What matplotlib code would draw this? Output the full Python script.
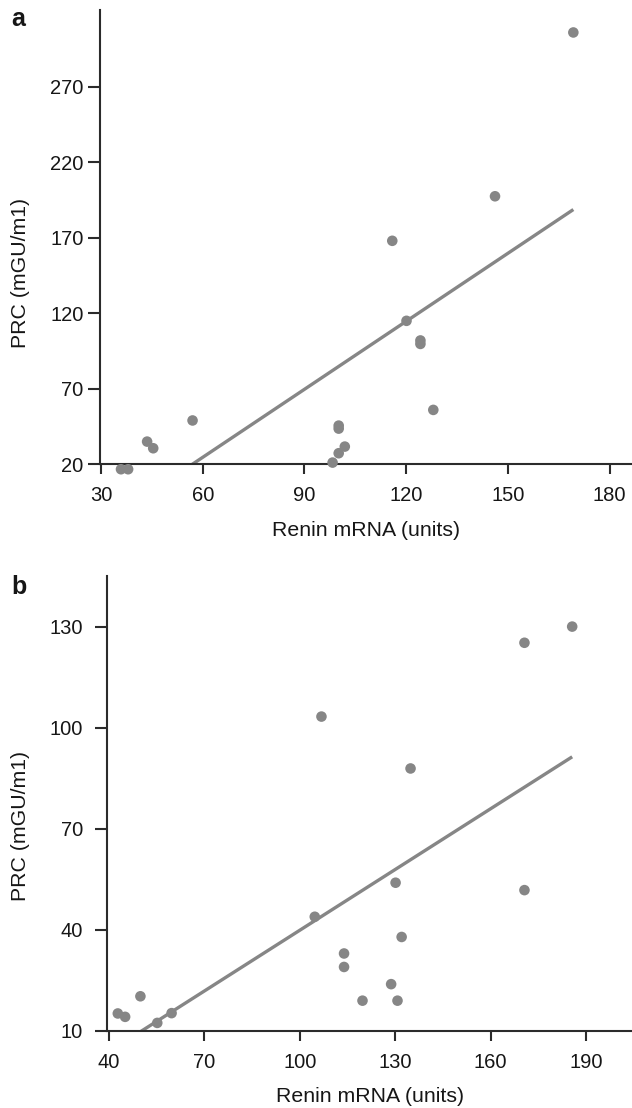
"""Two-panel scatter: PRC vs renin mRNA with least-squares fit lines."""

import matplotlib
matplotlib.use("Agg")
import matplotlib.pyplot as plt
import numpy as np

plt.rcParams["font.family"] = ["Liberation Sans", "DejaVu Sans"]

# panel a values
renin_a = [169.3, 146.2, 115.9, 120.1, 124.2, 124.2, 128.0, 57.0, 100.1, 100.1,
           101.9, 100.1, 98.3, 43.6, 45.4, 35.9, 38.0]
prc_a = [306.0, 197.5, 168.0, 115.0, 102.0, 99.7, 56.0, 49.0, 45.6, 43.6,
         31.7, 27.3, 21.1, 35.0, 30.6, 16.7, 16.7]

# panel b values
renin_b = [106.8, 170.6, 185.6, 134.8, 130.1, 170.6, 104.7, 132.0, 113.9, 113.9,
           128.7, 119.7, 130.7, 49.9, 42.8, 45.1, 55.2, 59.7]
prc_b = [103.3, 125.2, 130.0, 87.9, 54.0, 51.8, 43.9, 37.9, 33.0, 29.0,
         23.9, 19.0, 19.0, 20.3, 15.2, 14.2, 12.4, 15.3]

xticks_a = [30, 60, 90, 120, 150, 180]
yticks_a = [20, 70, 120, 170, 220, 270]
xticks_b = [40, 70, 100, 130, 160, 190]
yticks_b = [10, 40, 70, 100, 130]

GREY = "#868686"
INK = "#2b2b2b"
TXT = "#161616"


def _panel(ax, x, y, xticks, yticks, xlim, ylim, ytick_len, ytick_pad,
           ylab_xy, xlabpad):
    x = np.asarray(x)
    y = np.asarray(y)
    k, b = np.polyfit(x, y, 1)
    xs = np.array([x.min(), x.max()])
    ax.plot(xs, k * xs + b, color=GREY, lw=2.4, solid_capstyle="butt", zorder=2)
    ax.scatter(x, y, s=58, color=GREY, edgecolors="none", clip_on=False, zorder=3)

    ax.set_xlim(*xlim)
    ax.set_ylim(*ylim)
    ax.set_xticks(xticks)
    ax.set_yticks(yticks)
    for side in ("top", "right"):
        ax.spines[side].set_visible(False)
    for side in ("left", "bottom"):
        ax.spines[side].set_color(INK)
        ax.spines[side].set_linewidth(1.5)
    ax.tick_params(colors=INK, labelcolor=TXT, width=1.5, labelsize=14.5)
    ax.tick_params(axis="x", length=7.5, pad=8)
    ax.tick_params(axis="y", length=ytick_len, pad=ytick_pad)
    ax.set_xlabel("Renin mRNA (units)", fontsize=15.3, color=TXT, labelpad=xlabpad)
    ax.set_ylabel("PRC (mGU/m1)", fontsize=15.3, color=TXT)
    ax.yaxis.set_label_coords(*ylab_xy)


fig = plt.figure(figsize=(6.32, 11.08), dpi=100)

ax_a = fig.add_axes([0.1582, 0.5810, 0.8418, 0.4100])
_panel(ax_a, renin_a, prc_a, xticks_a, yticks_a, (29.7, 186.6), (20, 320.9),
       9.0, 2.8, (-0.1316, 0.421), 12)

ax_b = fig.add_axes([0.1698, 0.0695, 0.8302, 0.4106])
_panel(ax_b, renin_b, prc_b, xticks_b, yticks_b, (39.5, 204.4), (10, 145),
       8.6, 9.0, (-0.1473, 0.45), 11)

fig.text(11 / 632, 1 - 7 / 1108, "a", fontsize=18, fontweight="bold",
         ha="left", va="top", color=TXT)
fig.text(11 / 632, 1 - 575 / 1108, "b", fontsize=18, fontweight="bold",
         ha="left", va="top", color=TXT)

fig.savefig("out.png", dpi=100)
plt.close(fig)
